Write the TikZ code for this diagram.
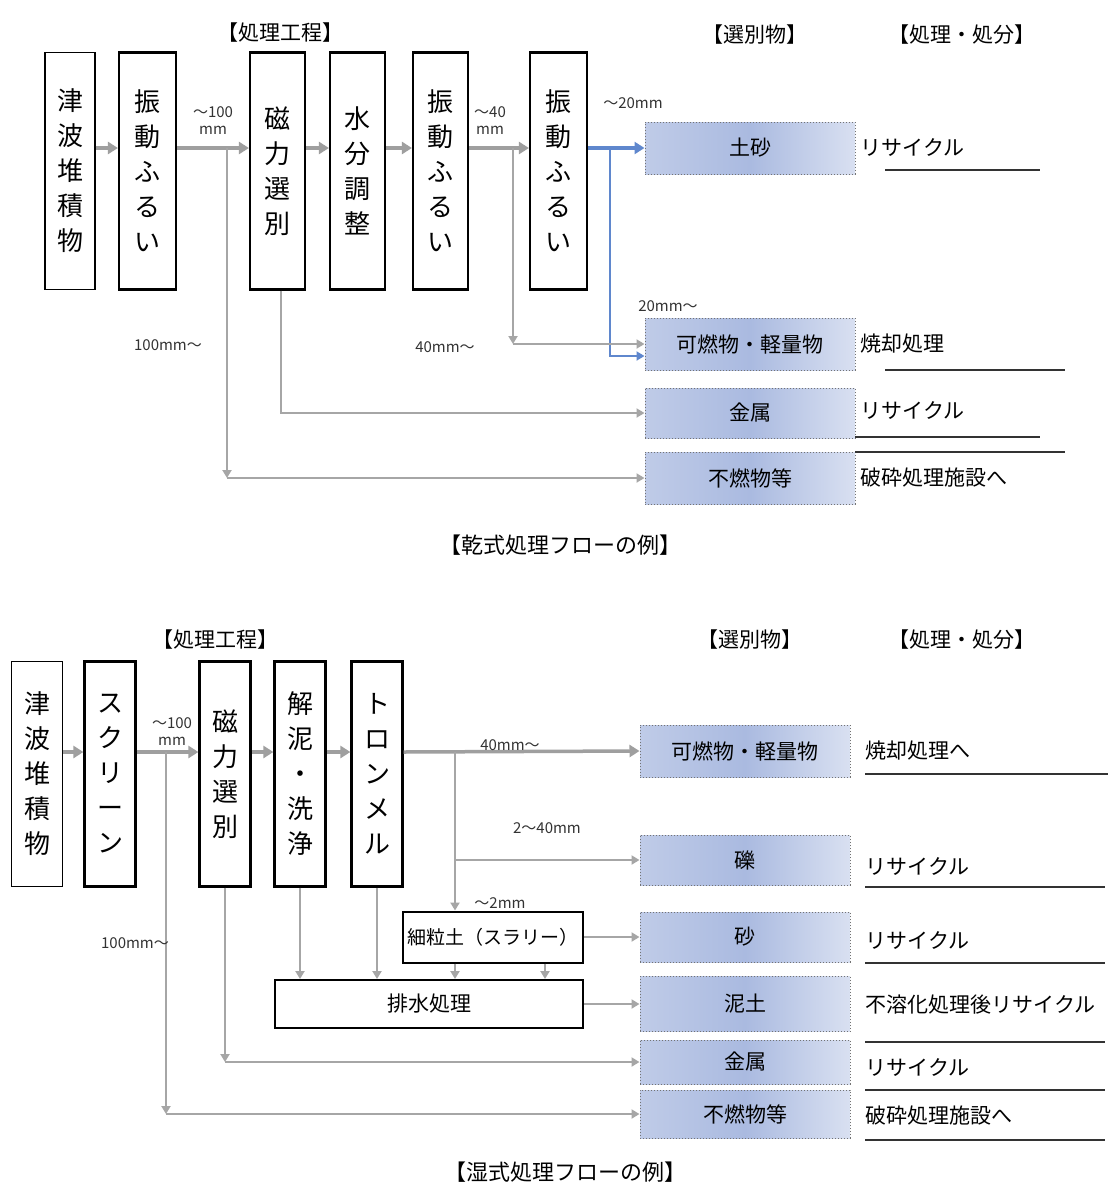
\documentclass[tikz,border=0pt]{standalone}
\usepackage{fontspec}
\setmainfont{Noto Sans CJK JP}
\usetikzlibrary{arrows.meta}
\definecolor{outblue}{RGB}{170,186,224}
\definecolor{lineblue}{RGB}{95,135,205}
\tikzset{
  procbox/.style={draw=black, line width=2.2pt, minimum width=50pt, minimum height=237pt, inner sep=0pt, align=center, font=\fontsize{26}{35}\selectfont},
  srcbox/.style={procbox, line width=1.2pt},
  subbox/.style={draw=black, line width=2pt, inner sep=0pt, font=\fontsize{19}{22}\selectfont},
  outbox/.style={draw=black!55, dotted, line width=1pt, minimum width=210pt, inner sep=0pt, left color=outblue!75, right color=outblue!45, middle color=outblue, font=\fontsize{21}{24}\selectfont},
  head/.style={font=\fontsize{21}{24}\selectfont},
  dest/.style={anchor=west, font=\fontsize{21}{24}\selectfont},
  lbl/.style={font=\fontsize{15}{17}\selectfont, text=black!80, inner sep=1pt},
  flow/.style={draw=gray!75, line width=3.5pt, -{Triangle[length=10pt,width=12pt]}},
  branch/.style={draw=gray!70, line width=2.2pt, -{Triangle[length=8pt,width=9pt]}},
  bluebranch/.style={draw=lineblue, line width=2.2pt, -{Triangle[length=8pt,width=9pt]}},
  rule/.style={draw=black!80, line width=1.2pt},
  caption/.style={font=\fontsize{22}{24}\selectfont},
}
\begin{document}
\begin{tikzpicture}[x=1pt,y=-1pt]
\useasboundingbox (0,0) rectangle (1118,1194);
\fill[white] (0,0) rectangle (1118,1194);

% ================= TOP DIAGRAM =================
\node[head] (th1) at (280,33) {【処理工程】};
\node[head] (th2) at (755,35) {【選別物】};
\node[head] (th3) at (962,35) {【処理・処分】};

\node[srcbox]  (t1) at (70,171)    {津\\波\\堆\\積\\物};
\node[procbox, minimum width=57pt] (t2) at (147.5,171) {振\\動\\ふ\\る\\い};
\node[procbox, minimum width=55pt] (t3) at (277.5,171) {磁\\力\\選\\別};
\node[procbox, minimum width=55pt] (t4) at (357.5,171) {水\\分\\調\\整};
\node[procbox, minimum width=55pt] (t5) at (440.5,171) {振\\動\\ふ\\る\\い};
\node[procbox, minimum width=57pt] (t6) at (558.5,171) {振\\動\\ふ\\る\\い};

\coordinate (tf) at (0,148);
\draw[flow] (t1.east |- tf) -- (t2.west |- tf);
\draw[flow] (t2.east |- tf) -- (t3.west |- tf);
\draw[flow] (t3.east |- tf) -- (t4.west |- tf);
\draw[flow] (t4.east |- tf) -- (t5.west |- tf);
\draw[flow] (t5.east |- tf) -- (t6.west |- tf);

\node[outbox, minimum height=52pt] (o1) at (750,148) {土砂};
\node[outbox, minimum height=52pt] (o2) at (750,344) {可燃物・軽量物};
\node[outbox, minimum height=50pt] (o3) at (750,413) {金属};
\node[outbox, minimum height=52pt] (o4) at (750,478) {不燃物等};

\node[dest] (d1) at (857,148) {リサイクル};
\node[dest] (d2) at (857,344) {焼却処理};
\node[dest] (d3) at (857,411) {リサイクル};
\node[dest] (d4) at (857,478) {破砕処理施設へ};
\draw[rule] (885,170) -- (1040,170);
\draw[rule] (885,370) -- (1065,370);
\draw[rule] (855,437) -- (1040,437);
\draw[rule] (855,452) -- (1065,452);

% connectors
\coordinate (k20) at (610,148);
\coordinate (k40) at (513,148);
\coordinate (k40c) at (513,344);
\coordinate (k100) at (227,148);
\coordinate (k100c) at (227,478);
\draw[flow, draw=lineblue] (t6.east |- tf) -- (o1.west);
\draw[bluebranch] (k20) |- ([yshift=-12pt]o2.west);
\draw[branch] (k40) -- (k40c);
\draw[branch] (k40c) -- (o2.west);
\draw[branch] (t3.south -| 281,0) |- (o3.west);
\draw[branch] (k100) -- (k100c);
\draw[branch] (k100c) -- (o4.west);

\node[lbl, align=center] (l100) at (213,121) {～100\\mm};
\node[lbl, align=center] (l40) at (490,121) {～40\\mm};
\node[lbl] (l20) at (633,103) {～20mm};
\node[lbl] (l100b) at (168,345) {100mm～};
\node[lbl] (l40b) at (445,347) {40mm～};
\node[lbl] (l20b) at (668,306) {20mm～};

\node[caption] (cap1) at (560,545) {【乾式処理フローの例】};

% ================= BOTTOM DIAGRAM =================
\node[head] (bh1) at (215,640) {【処理工程】};
\node[head] (bh2) at (750,640) {【選別物】};
\node[head] (bh3) at (962,640) {【処理・処分】};

\node[srcbox, minimum height=225pt, minimum width=51pt] (p1) at (37,774)  {津\\波\\堆\\積\\物};
\node[procbox, minimum height=225pt, minimum width=51pt] (p2) at (110,774) {ス\\ク\\リ\\ー\\ン};
\node[procbox, minimum height=225pt, minimum width=51pt] (p3) at (225,774) {磁\\力\\選\\別};
\node[procbox, minimum height=225pt, minimum width=51pt] (p4) at (300,774) {解\\泥\\・\\洗\\浄};
\node[procbox, minimum height=225pt, minimum width=51pt] (p5) at (377,774) {ト\\ロ\\ン\\メ\\ル};

\coordinate (bf) at (0,752);
\draw[flow] (p1.east |- bf) -- (p2.west |- bf);
\draw[flow] (p2.east |- bf) -- (p3.west |- bf);
\draw[flow] (p3.east |- bf) -- (p4.west |- bf);
\draw[flow] (p4.east |- bf) -- (p5.west |- bf);

\node[subbox, minimum width=180pt, minimum height=51pt] (sl) at (493,937) {細粒土（スラリー）};
\node[subbox, minimum width=308pt, minimum height=48pt, font=\fontsize{21}{24}\selectfont] (ww) at (429,1004) {排水処理};

\node[outbox, minimum height=52pt] (b1) at (745,751) {可燃物・軽量物};
\node[outbox, minimum height=50pt] (b2) at (745,860) {礫};
\node[outbox, minimum height=50pt] (b3) at (745,937) {砂};
\node[outbox, minimum height=55pt] (b4) at (745,1004) {泥土};
\node[outbox, minimum height=44pt] (b5) at (745,1062) {金属};
\node[outbox, minimum height=48pt] (b6) at (745,1114) {不燃物等};

\node[dest] (e1) at (862,751) {焼却処理へ};
\node[dest] (e2) at (862,866) {リサイクル};
\node[dest] (e3) at (862,940) {リサイクル};
\node[dest] (e4) at (862,1005) {不溶化処理後リサイクル};
\node[dest] (e5) at (862,1067) {リサイクル};
\node[dest] (e6) at (862,1116) {破砕処理施設へ};
\draw[rule] (865,774) -- (1108,774);
\draw[rule] (865,887) -- (1105,887);
\draw[rule] (865,963) -- (1105,963);
\draw[rule] (865,1042) -- (1105,1042);
\draw[rule] (865,1090) -- (1105,1090);
\draw[rule] (865,1140) -- (1105,1140);

% connectors
\coordinate (m40) at (455,752);
\coordinate (m100) at (166,752);
\coordinate (m100c) at (166,1114);
\coordinate (mmet) at (225,1062);
\draw[flow] (p5.east |- bf) -- (b1.west);
\draw[branch] (m40) |- (b2.west);
\draw[branch] (m40) -- (sl.north -| m40);
\draw[branch] (sl.east) -- (b3.west);
\draw[branch] (ww.east) -- (b4.west);
\draw[branch] (p4.south) -- (p4.south |- ww.north);
\draw[branch] (p5.south) -- (p5.south |- ww.north);
\draw[branch] (sl.south -| m40) -- (ww.north -| m40);
\draw[branch] (sl.south -| 545,0) -- (ww.north -| 545,0);
\draw[branch] (p3.south) -- (mmet);
\draw[branch] (mmet) -- (b5.west);
\draw[branch] (m100) -- (m100c);
\draw[branch] (m100c) -- (b6.west);

\node[lbl, align=center] (m100l) at (172,732) {～100\\mm};
\node[lbl] (m40l) at (510,745) {40mm～};
\node[lbl] (m2l) at (547,828) {2～40mm};
\node[lbl] (m0l) at (500,903) {～2mm};
\node[lbl] (m100b) at (135,943) {100mm～};

\node[caption] (cap2) at (565,1172) {【湿式処理フローの例】};
\end{tikzpicture}
\end{document}
